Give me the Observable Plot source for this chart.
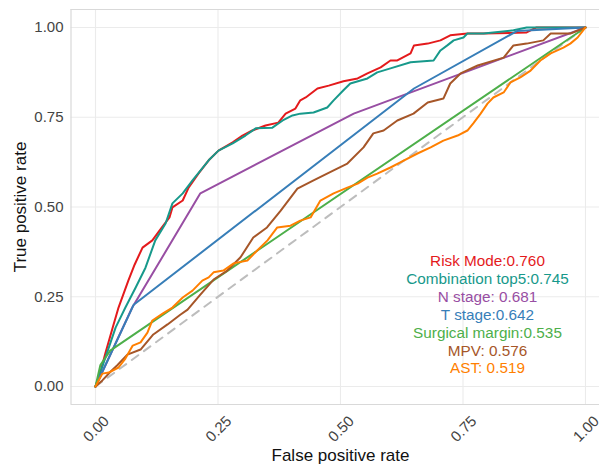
<!DOCTYPE html>
<html><head><meta charset="utf-8">
<script src="https://cdn.jsdelivr.net/npm/d3@7"></script>
<script src="https://cdn.jsdelivr.net/npm/@observablehq/plot@0.6"></script>
<style>body{margin:0;background:#fff} svg{display:block}</style>
</head><body><div id="chart"></div>
<script>
// ---- data ----
const seriesNames = ["Risk Mode", "Combination top5", "N stage", "T stage", "Surgical margin", "MPV", "AST"];
const seriesColors = ["#e41a1c", "#17998b", "#984ea3", "#377eb8", "#4daf4a", "#a65628", "#ff7f00"];
const legendLabels = ["Risk Mode:0.760", "Combination top5:0.745", "N stage: 0.681", "T stage:0.642", "Surgical margin:0.535", "MPV: 0.576", "AST: 0.519"];
const legendY = [0.35, 0.30, 0.25, 0.20, 0.15, 0.10, 0.05];
const legendX = 0.8;

const riskFpr = [0, 0.012, 0.020, 0.035, 0.047, 0.067, 0.080, 0.096, 0.116, 0.131, 0.151, 0.157, 0.178, 0.19, 0.21, 0.231, 0.251, 0.28, 0.30, 0.32, 0.347, 0.373, 0.388, 0.408, 0.418, 0.429, 0.453, 0.476, 0.506, 0.535, 0.555, 0.582, 0.602, 0.616, 0.643, 0.65, 0.678, 0.704, 0.724, 0.759, 0.792, 0.88, 0.9, 1];
const riskTpr = [0, 0.05, 0.092, 0.164, 0.22, 0.295, 0.34, 0.387, 0.407, 0.435, 0.471, 0.499, 0.518, 0.554, 0.593, 0.63, 0.657, 0.68, 0.699, 0.713, 0.727, 0.735, 0.76, 0.774, 0.797, 0.805, 0.83, 0.838, 0.85, 0.858, 0.872, 0.889, 0.908, 0.908, 0.928, 0.95, 0.955, 0.964, 0.978, 0.983, 0.983, 0.986, 1, 1];

const comboFpr = [0, 0.02, 0.041, 0.061, 0.082, 0.102, 0.122, 0.143, 0.157, 0.178, 0.198, 0.231, 0.251, 0.28, 0.306, 0.327, 0.361, 0.382, 0.402, 0.418, 0.445, 0.473, 0.486, 0.506, 0.52, 0.555, 0.575, 0.602, 0.643, 0.69, 0.704, 0.718, 0.731, 0.751, 0.759, 0.792, 0.853, 0.88, 1];
const comboTpr = [0, 0.08, 0.164, 0.22, 0.276, 0.331, 0.407, 0.454, 0.51, 0.538, 0.574, 0.63, 0.657, 0.677, 0.699, 0.719, 0.721, 0.741, 0.755, 0.76, 0.763, 0.777, 0.797, 0.825, 0.844, 0.858, 0.875, 0.886, 0.903, 0.908, 0.936, 0.95, 0.964, 0.972, 0.983, 0.983, 0.992, 1, 1];

const nFpr = [0, 0.075, 0.214, 0.527, 1];
const nTpr = [0, 0.22, 0.538, 0.76, 1];

const tFpr = [0, 0.078, 0.65, 0.86, 1];
const tTpr = [0, 0.228, 0.83, 0.99, 1];

const marginFpr = [0, 0.01, 0.03, 1];
const marginTpr = [0, 0.06, 0.1, 1];

const mpvFpr = [0, 0.014, 0.031, 0.045, 0.065, 0.092, 0.118, 0.147, 0.173, 0.188, 0.214, 0.241, 0.269, 0.296, 0.322, 0.35, 0.378, 0.412, 0.445, 0.486, 0.514, 0.547, 0.567, 0.588, 0.616, 0.649, 0.678, 0.71, 0.724, 0.745, 0.78, 0.833, 0.853, 0.88, 0.914, 0.929, 0.969, 1];
const mpvTpr = [0, 0.017, 0.042, 0.06, 0.089, 0.103, 0.145, 0.173, 0.2, 0.214, 0.256, 0.298, 0.323, 0.36, 0.415, 0.443, 0.49, 0.551, 0.574, 0.602, 0.621, 0.666, 0.705, 0.713, 0.741, 0.76, 0.791, 0.802, 0.844, 0.872, 0.894, 0.916, 0.95, 0.955, 0.964, 0.983, 0.983, 1];

const astFpr = [0, 0.014, 0.027, 0.047, 0.061, 0.076, 0.092, 0.106, 0.116, 0.137, 0.157, 0.178, 0.198, 0.218, 0.231, 0.241, 0.261, 0.282, 0.31, 0.33, 0.351, 0.371, 0.398, 0.418, 0.439, 0.459, 0.486, 0.514, 0.535, 0.555, 0.575, 0.602, 0.622, 0.657, 0.684, 0.71, 0.739, 0.759, 0.771, 0.786, 0.8, 0.812, 0.833, 0.847, 0.867, 0.888, 0.908, 0.929, 0.955, 0.969, 0.984, 1];
const astTpr = [0, 0.036, 0.039, 0.053, 0.078, 0.114, 0.123, 0.15, 0.184, 0.203, 0.22, 0.248, 0.267, 0.295, 0.304, 0.318, 0.323, 0.343, 0.351, 0.379, 0.407, 0.443, 0.448, 0.462, 0.471, 0.518, 0.538, 0.554, 0.565, 0.582, 0.593, 0.61, 0.624, 0.649, 0.666, 0.685, 0.699, 0.713, 0.733, 0.76, 0.788, 0.805, 0.819, 0.847, 0.861, 0.88, 0.908, 0.928, 0.944, 0.955, 0.972, 1];

const diagFpr = [0, 1];
const diagTpr = [0, 1];

const xTicks = [0, 0.25, 0.5, 0.75, 1];
const xTickLabels = ["0.00", "0.25", "0.50", "0.75", "1.00"];
const yTicks = [0, 0.25, 0.5, 0.75, 1];
const yTickLabels = ["0.00", "0.25", "0.50", "0.75", "1.00"];
const xTitle = "False positive rate";
const yTitle = "True positive rate";

// ---- build table ----
const seriesFpr = [riskFpr, comboFpr, nFpr, tFpr, marginFpr, mpvFpr, astFpr];
const seriesTpr = [riskTpr, comboTpr, nTpr, tTpr, marginTpr, mpvTpr, astTpr];
const rows = [];
seriesNames.forEach((name, s) => {
  seriesFpr[s].forEach((f, i) => rows.push({series: name, fpr: f, tpr: seriesTpr[s][i]}));
});
const diag = diagFpr.map((f, i) => ({fpr: f, tpr: diagTpr[i]}));
const legendRows = seriesNames.map((name, i) => ({series: name, label: legendLabels[i], y: legendY[i]}));

const font = "'Liberation Sans', Arial, Helvetica, sans-serif";
const frameColor = "#d9d9d9";
const gridColor = "#ebebeb";

const chart = Plot.plot({
  width: 599,
  height: 468,
  marginLeft: 70.5,
  marginRight: 0,
  marginTop: 9,
  marginBottom: 64,
  style: {fontFamily: font, background: "white"},
  x: {domain: [-0.05, 1.0286], axis: null},
  y: {domain: [-0.05, 1.05], axis: null},
  color: {domain: seriesNames, range: seriesColors},
  marks: [
    Plot.gridX(xTicks, {stroke: gridColor, strokeOpacity: 1, strokeWidth: 1.1}),
    Plot.gridY(yTicks, {stroke: gridColor, strokeOpacity: 1, strokeWidth: 1.1}),
    Plot.ruleX([-0.05], {stroke: frameColor, strokeWidth: 1.2}),
    Plot.ruleY([-0.05, 1.05], {stroke: frameColor, strokeWidth: 1.2}),
    Plot.line(diag, {x: "fpr", y: "tpr", stroke: "#bdbdbd", strokeWidth: 2, strokeDasharray: "8,7"}),
    Plot.line(rows, {x: "fpr", y: "tpr", z: "series", stroke: "series", strokeWidth: 2, strokeLinejoin: "round"}),
    Plot.text(legendRows, {x: () => legendX, y: "y", text: "label", fill: "series", fontSize: 15.3, textAnchor: "middle"}),
    Plot.text(xTicks, {x: d => d, y: () => -0.05, text: (d, i) => xTickLabels[i], rotate: -45, textAnchor: "end", lineAnchor: "bottom", dx: 14.5, dy: 17.5, fontSize: 15, fill: "#444"}),
    Plot.text(yTicks, {y: d => d, frameAnchor: "left", text: (d, i) => yTickLabels[i], textAnchor: "end", dx: -7.5, fontSize: 15, fill: "#444"}),
    Plot.text([xTitle], {x: () => 0.5, y: () => -0.05, text: d => d, lineAnchor: "bottom", dy: 56, fontSize: 17, fill: "#111"}),
    Plot.text([yTitle], {x: () => -0.05, y: () => 0.5, text: d => d, rotate: -90, dx: -50, fontSize: 17, fill: "#111"})
  ]
});
document.getElementById("chart").appendChild(chart);
</script>
</body></html>
